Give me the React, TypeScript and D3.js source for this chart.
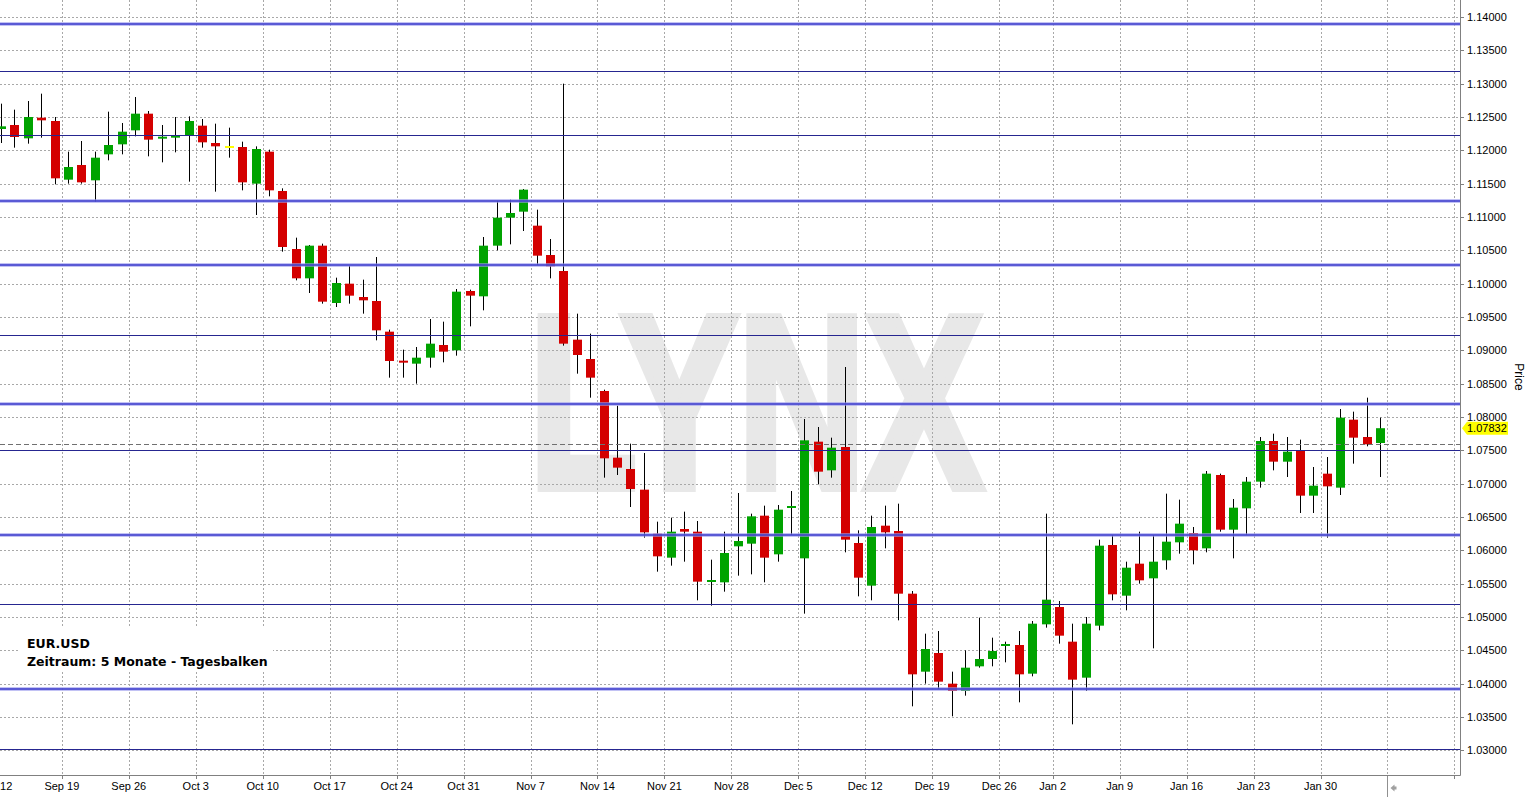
import React, { useEffect, useRef } from "react";
import * as d3 from "d3";

const symbolName = "EUR.USD";
const periodText = "Zeitraum: 5 Monate - Tagesbalken";

// week labels on the time axis and the number of daily bars in each week
const weekLabels = ["Sep 12", "Sep 19", "Sep 26", "Oct 3", "Oct 10", "Oct 17", "Oct 24", "Oct 31",
    "Nov 7", "Nov 14", "Nov 21", "Nov 28", "Dec 5", "Dec 12", "Dec 19", "Dec 26",
    "Jan 2", "Jan 9", "Jan 16", "Jan 23", "Jan 30"];
const weekDays = [5, 5, 5, 5, 5, 5, 5, 5, 5, 5, 5, 5, 5, 5, 5, 4, 5, 5, 5, 5, 5];
const futureWeeks = 2; // empty weeks right of the last bar

// daily bars: [open, high, low, close]
const bars = [
    [1.1232, 1.1270, 1.1211, 1.1236], [1.1238, 1.1261, 1.1204, 1.1220], [1.1218, 1.1274, 1.1210, 1.1250],
    [1.1249, 1.1285, 1.1219, 1.1245], [1.1244, 1.1250, 1.1149, 1.1158],
    [1.1156, 1.1198, 1.1150, 1.1175], [1.1178, 1.1214, 1.1150, 1.1152], [1.1155, 1.1198, 1.1123, 1.1189],
    [1.1194, 1.1258, 1.1185, 1.1208], [1.1209, 1.1241, 1.1194, 1.1228],
    [1.1230, 1.1280, 1.1221, 1.1255], [1.1255, 1.1259, 1.1191, 1.1216], [1.1216, 1.1238, 1.1182, 1.1219],
    [1.1219, 1.1250, 1.1197, 1.1223], [1.1223, 1.1251, 1.1153, 1.1244],
    [1.1237, 1.1247, 1.1204, 1.1212], [1.1211, 1.1240, 1.1138, 1.1206], [1.1205, 1.1234, 1.1189, 1.1205],
    [1.1205, 1.1213, 1.1140, 1.1152], [1.1150, 1.1206, 1.1103, 1.1202],
    [1.1198, 1.1201, 1.1131, 1.1140], [1.1139, 1.1143, 1.1048, 1.1055], [1.1052, 1.1069, 1.1005, 1.1008],
    [1.1008, 1.1058, 1.0986, 1.1057], [1.1057, 1.1060, 1.0970, 1.0973],
    [1.0971, 1.1009, 1.0965, 1.1001], [1.1000, 1.1027, 1.0970, 1.0982], [1.0980, 1.1006, 1.0955, 1.0975],
    [1.0974, 1.1040, 1.0915, 1.0930], [1.0928, 1.0931, 1.0859, 1.0884],
    [1.0883, 1.0901, 1.0859, 1.0880], [1.0880, 1.0905, 1.0850, 1.0889], [1.0889, 1.0947, 1.0874, 1.0910],
    [1.0908, 1.0943, 1.0882, 1.0898], [1.0900, 1.0992, 1.0892, 1.0988],
    [1.0989, 1.0991, 1.0936, 1.0982], [1.0981, 1.1070, 1.0960, 1.1057], [1.1057, 1.1124, 1.1050, 1.1099],
    [1.1099, 1.1126, 1.1059, 1.1106], [1.1108, 1.1142, 1.1079, 1.1141],
    [1.1087, 1.1111, 1.1028, 1.1042], [1.1043, 1.1067, 1.1008, 1.1026], [1.1019, 1.1300, 1.0907, 1.0910],
    [1.0916, 1.0955, 1.0865, 1.0893], [1.0887, 1.0925, 1.0829, 1.0859],
    [1.0839, 1.0841, 1.0709, 1.0738], [1.0739, 1.0817, 1.0713, 1.0724], [1.0722, 1.0760, 1.0665, 1.0692],
    [1.0691, 1.0746, 1.0619, 1.0627], [1.0625, 1.0643, 1.0568, 1.0591],
    [1.0589, 1.0649, 1.0577, 1.0628], [1.0632, 1.0658, 1.0583, 1.0628], [1.0628, 1.0644, 1.0525, 1.0553],
    [1.0551, 1.0586, 1.0517, 1.0554], [1.0552, 1.0628, 1.0538, 1.0596],
    [1.0606, 1.0686, 1.0562, 1.0614], [1.0610, 1.0655, 1.0564, 1.0651], [1.0652, 1.0667, 1.0552, 1.0589],
    [1.0594, 1.0668, 1.0583, 1.0661], [1.0663, 1.0689, 1.0623, 1.0665],
    [1.0588, 1.0797, 1.0505, 1.0765], [1.0763, 1.0785, 1.0699, 1.0718], [1.0720, 1.0769, 1.0709, 1.0754],
    [1.0755, 1.0875, 1.0597, 1.0616], [1.0611, 1.0630, 1.0531, 1.0559],
    [1.0547, 1.0652, 1.0525, 1.0635], [1.0637, 1.0667, 1.0603, 1.0627], [1.0629, 1.0670, 1.0495, 1.0535],
    [1.0535, 1.0539, 1.0366, 1.0414], [1.0418, 1.0475, 1.0400, 1.0452],
    [1.0446, 1.0479, 1.0392, 1.0403], [1.0400, 1.0418, 1.0351, 1.0389], [1.0389, 1.0450, 1.0382, 1.0424],
    [1.0426, 1.0499, 1.0424, 1.0437], [1.0437, 1.0469, 1.0426, 1.0449],
    [1.0456, 1.0463, 1.0432, 1.0458], [1.0458, 1.0479, 1.0372, 1.0414], [1.0415, 1.0494, 1.0411, 1.0490],
    [1.0489, 1.0655, 1.0484, 1.0526],
    [1.0515, 1.0524, 1.0460, 1.0472], [1.0463, 1.0490, 1.0339, 1.0406], [1.0409, 1.0500, 1.0389, 1.0490],
    [1.0487, 1.0616, 1.0480, 1.0607], [1.0608, 1.0623, 1.0525, 1.0534],
    [1.0532, 1.0583, 1.0510, 1.0574], [1.0580, 1.0628, 1.0550, 1.0555], [1.0558, 1.0623, 1.0453, 1.0583],
    [1.0585, 1.0685, 1.0571, 1.0613], [1.0612, 1.0676, 1.0595, 1.0640],
    [1.0626, 1.0635, 1.0579, 1.0600], [1.0603, 1.0719, 1.0597, 1.0715], [1.0713, 1.0715, 1.0628, 1.0631],
    [1.0631, 1.0677, 1.0588, 1.0664], [1.0663, 1.0710, 1.0623, 1.0703],
    [1.0703, 1.0770, 1.0694, 1.0764], [1.0764, 1.0775, 1.0720, 1.0733], [1.0733, 1.0770, 1.0710, 1.0748],
    [1.0749, 1.0766, 1.0656, 1.0682], [1.0682, 1.0725, 1.0656, 1.0697],
    [1.0715, 1.0740, 1.0619, 1.0696], [1.0694, 1.0812, 1.0683, 1.0799], [1.0796, 1.0808, 1.0730, 1.0769],
    [1.0770, 1.0829, 1.0756, 1.0759], [1.0761, 1.0799, 1.0710, 1.07832]
];

// support / resistance lines
const majorLevels = [1.1389, 1.11235, 1.10275, 1.0819, 1.06225, 1.03915];
const minorLevels = [1.13185, 1.12225, 1.09225, 1.0750, 1.0519, 1.03025];

const priceTicks = [1.03, 1.035, 1.04, 1.045, 1.05, 1.055, 1.06, 1.065, 1.07, 1.075, 1.08, 1.085,
    1.09, 1.095, 1.10, 1.105, 1.11, 1.115, 1.12, 1.125, 1.13, 1.135, 1.14];

const W = 1530, H = 808;
const plotW = 1460, plotH = 775;
const labelFont = "'Liberation Sans', Arial, sans-serif";
const legendFont = "'DejaVu Sans', Verdana, sans-serif";

export default function App() {
    const ref = useRef<SVGSVGElement>(null);

    useEffect(() => {
        document.body.style.margin = "0";
        document.body.style.overflow = "hidden";

        const svg = d3.select(ref.current);
        svg.selectAll("*").remove();

        const totalSlots = d3.sum(weekDays) + futureWeeks * 5;
        const x = d3.scaleLinear().domain([0, totalSlots]).range([-5.1, -5.1 + totalSlots * 13.39]);
        const y = d3.scaleLinear().domain([1.0263, 1.14255]).range([plotH, 0]);
        const slot = x(1) - x(0);

        // week boundaries (bar index where each week starts)
        const weekStarts = Array.from(d3.cumsum([0, ...weekDays]));
        const gridStarts = weekStarts.concat(d3.range(1, futureWeeks).map(k => weekStarts[weekStarts.length - 1] + k * 5));

        svg.append("rect").attr("width", W).attr("height", H).attr("fill", "#fff");

        svg.append("defs").append("clipPath").attr("id", "plotClip")
            .append("rect").attr("x", 0).attr("y", 0).attr("width", plotW).attr("height", plotH);

        const plot = svg.append("g").attr("clip-path", "url(#plotClip)");

        // watermark
        plot.append("text")
            .attr("x", 529.5).attr("y", 487)
            .attr("font-family", labelFont).attr("font-weight", "bold")
            .attr("font-size", 245)
            .attr("textLength", 453).attr("lengthAdjust", "spacingAndGlyphs")
            .attr("fill", "#e8e8e8").attr("stroke", "#e8e8e8").attr("stroke-width", 10)
            .attr("stroke-linejoin", "miter")
            .text("LYNX");

        // grid
        plot.selectAll(".hgrid").data(priceTicks).enter().append("line")
            .attr("x1", 0).attr("x2", plotW)
            .attr("y1", d => Math.round(y(d)) + 0.5).attr("y2", d => Math.round(y(d)) + 0.5)
            .attr("stroke", "#a8a8a8").attr("stroke-dasharray", "2,2");
        plot.selectAll(".vgrid").data(gridStarts).enter().append("line")
            .attr("x1", d => Math.round(x(d)) + 0.5).attr("x2", d => Math.round(x(d)) + 0.5)
            .attr("y1", 0).attr("y2", plotH)
            .attr("stroke", "#a8a8a8").attr("stroke-dasharray", "2,2");

        // candles
        const candle = plot.selectAll(".candle").data(bars).enter().append("g");
        const left = (i: number) => Math.round(x(i) + slot / 2 - 4.5);
        candle.append("line")
            .attr("x1", (d, i) => left(i) + 4.5).attr("x2", (d, i) => left(i) + 4.5)
            .attr("y1", d => y(d[1])).attr("y2", d => y(d[2]))
            .attr("stroke", "#000").attr("stroke-width", 1);
        candle.append("rect")
            .attr("x", (d, i) => left(i)).attr("width", 9)
            .attr("y", d => Math.min(y(d[0]), y(d[3])) - (Math.abs(y(d[0]) - y(d[3])) < 2 ? 1 : 0))
            .attr("height", d => Math.max(2, Math.abs(y(d[0]) - y(d[3]))))
            .attr("fill", d => d[3] > d[0] ? "#00a300" : d[3] < d[0] ? "#d40000" : "#ffff00");

        // level lines
        plot.selectAll(".major").data(majorLevels).enter().append("line")
            .attr("x1", 0).attr("x2", plotW)
            .attr("y1", d => Math.round(y(d))).attr("y2", d => Math.round(y(d)))
            .attr("stroke", "#9a9aee").attr("stroke-width", 3.5).attr("stroke-opacity", 0.8);
        plot.selectAll(".majorCore").data(majorLevels).enter().append("line")
            .attr("x1", 0).attr("x2", plotW)
            .attr("y1", d => Math.round(y(d))).attr("y2", d => Math.round(y(d)))
            .attr("stroke", "#2a2ac4").attr("stroke-width", 1.6).attr("stroke-opacity", 0.85);
        plot.selectAll(".minor").data(minorLevels).enter().append("line")
            .attr("x1", 0).attr("x2", plotW)
            .attr("y1", d => Math.round(y(d)) + 0.5).attr("y2", d => Math.round(y(d)) + 0.5)
            .attr("stroke", "#262690").attr("stroke-width", 1);

        // previous close
        const prevClose = bars[bars.length - 2][3];
        plot.append("line")
            .attr("x1", 0).attr("x2", plotW)
            .attr("y1", Math.round(y(prevClose)) + 0.5).attr("y2", Math.round(y(prevClose)) + 0.5)
            .attr("stroke", "#707070").attr("stroke-dasharray", "5,3");

        // legend
        plot.append("rect").attr("x", 20).attr("y", 627).attr("width", 253).attr("height", 43).attr("fill", "#fff");
        plot.append("text").attr("x", 27).attr("y", 648)
            .attr("font-family", legendFont).attr("font-weight", "bold").attr("font-size", 12.5)
            .text(symbolName);
        plot.append("text").attr("x", 27).attr("y", 666)
            .attr("font-family", legendFont).attr("font-weight", "bold").attr("font-size", 12.5)
            .text(periodText);

        // axes frame
        svg.append("line").attr("x1", plotW + 0.5).attr("x2", plotW + 0.5).attr("y1", 0).attr("y2", plotH + 0.5)
            .attr("stroke", "#808080");
        svg.append("line").attr("x1", 0).attr("x2", plotW + 0.5).attr("y1", plotH + 0.5).attr("y2", plotH + 0.5)
            .attr("stroke", "#808080");

        // price axis
        const yAxis = svg.append("g");
        yAxis.selectAll("line").data(priceTicks).enter().append("line")
            .attr("x1", plotW + 1).attr("x2", plotW + 4)
            .attr("y1", d => Math.round(y(d)) + 0.5).attr("y2", d => Math.round(y(d)) + 0.5)
            .attr("stroke", "#808080");
        yAxis.selectAll("text").data(priceTicks).enter().append("text")
            .attr("x", plotW + 7).attr("y", d => y(d)).attr("dy", "0.35em")
            .attr("font-family", labelFont).attr("font-size", 11).attr("fill", "#000")
            .text(d => d3.format(".5f")(d));

        svg.append("text")
            .attr("transform", `translate(${1515},${377}) rotate(90)`)
            .attr("text-anchor", "middle")
            .attr("font-family", labelFont).attr("font-size", 12).attr("fill", "#000")
            .text("Price");

        // last price tag
        const last = bars[bars.length - 1][3];
        const ly = y(last);
        svg.append("path")
            .attr("d", `M${plotW + 2},${ly} L${plotW + 7},${ly - 6.5} L${plotW + 48},${ly - 6.5} L${plotW + 48},${ly + 6.5} L${plotW + 7},${ly + 6.5} Z`)
            .attr("fill", "#ffff00");
        svg.append("text")
            .attr("x", plotW + 7).attr("y", ly).attr("dy", "0.35em")
            .attr("font-family", labelFont).attr("font-size", 11).attr("fill", "#000")
            .text(d3.format(".5f")(last));

        // time axis
        const xAxis = svg.append("g");
        xAxis.selectAll("line").data(gridStarts).enter().append("line")
            .attr("x1", d => Math.round(x(d)) + 0.5).attr("x2", d => Math.round(x(d)) + 0.5)
            .attr("y1", plotH + 1).attr("y2", plotH + 4)
            .attr("stroke", "#808080");
        xAxis.selectAll("text").data(weekLabels).enter().append("text")
            .attr("x", (d, i) => x(weekStarts[i])).attr("y", 790)
            .attr("text-anchor", "middle")
            .attr("font-family", labelFont).attr("font-size", 11).attr("fill", "#000")
            .text(d => d);

        // scroll marker after the last bar
        const sx = Math.round(x(weekStarts[weekStarts.length - 1])) + 0.5;
        svg.append("line").attr("x1", sx).attr("x2", sx).attr("y1", plotH + 1).attr("y2", 797)
            .attr("stroke", "#909090");
        svg.append("path")
            .attr("d", `M${sx + 3},${788} L${sx + 7},${784.5} L${sx + 7},${786.5} L${sx + 9},${786.5} L${sx + 9},${789.5} L${sx + 7},${789.5} L${sx + 7},${791.5} Z`)
            .attr("fill", "#a0a0a0");
    }, []);

    return <svg ref={ref} width={W} height={H} style={{ display: "block" }} />;
}
